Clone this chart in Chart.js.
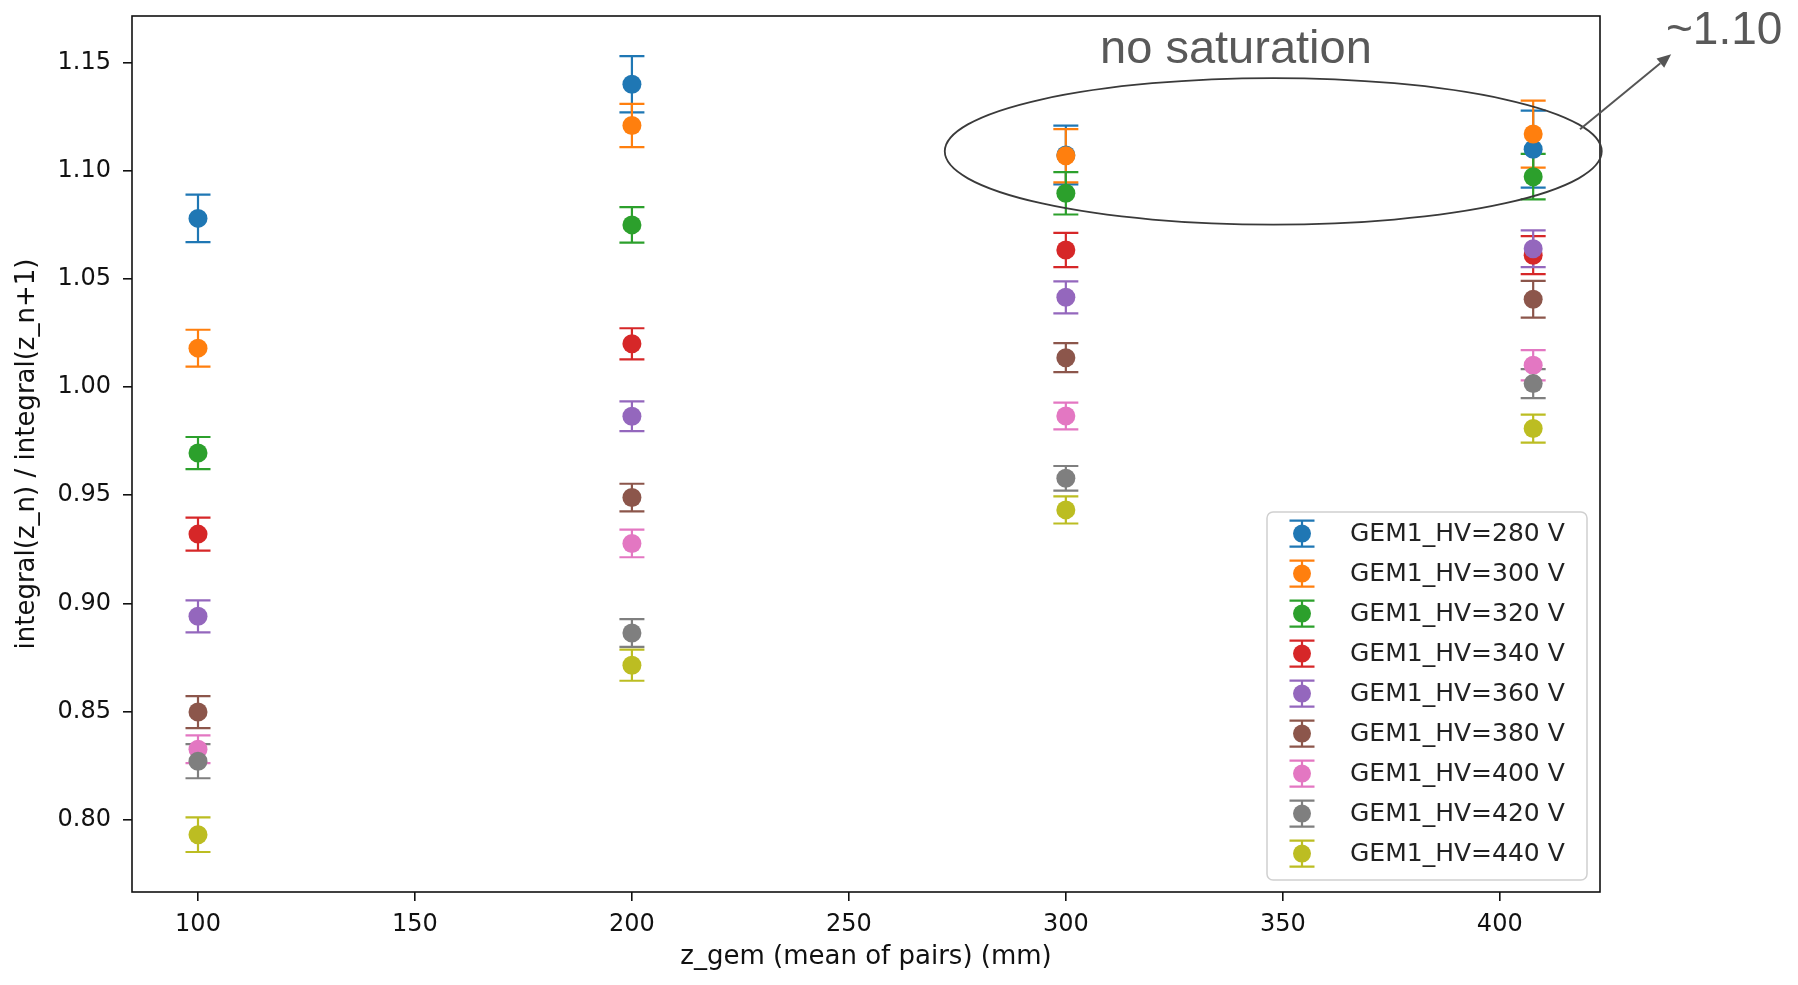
<!DOCTYPE html>
<html>
<head>
<meta charset="utf-8">
<title>integral ratio vs z_gem</title>
<script src="https://cdn.jsdelivr.net/npm/chart.js@4.4.1/dist/chart.umd.min.js"></script>
<style>
  html, body { margin: 0; padding: 0; background: #fff; }
  #wrap { width: 1798px; height: 985px; }
</style>
</head>
<body>
<div id="wrap"><canvas id="chart"></canvas></div>
<script>
/* z positions (mean of pairs), mm */
const zGem = [100, 200, 300, 407.7];

const hvLabels = [
    "GEM1_HV=280 V", "GEM1_HV=300 V", "GEM1_HV=320 V",
    "GEM1_HV=340 V", "GEM1_HV=360 V", "GEM1_HV=380 V",
    "GEM1_HV=400 V", "GEM1_HV=420 V", "GEM1_HV=440 V"
];

/* ratio integral(z_n) / integral(z_n+1), one array per HV setting */
const ratio280 = [1.078, 1.140, 1.1073, 1.110];
const ratio300 = [1.018, 1.121, 1.107, 1.117];
const ratio320 = [0.9695, 1.075, 1.0896, 1.0973];
const ratio340 = [0.932, 1.020, 1.0634, 1.061];
const ratio360 = [0.894, 0.9865, 1.0415, 1.064];
const ratio380 = [0.8497, 0.9489, 1.0136, 1.0406];
const ratio400 = [0.8325, 0.9277, 0.9866, 1.0101];
const ratio420 = [0.827, 0.8863, 0.9578, 1.0016];
const ratio440 = [0.793, 0.8714, 0.9432, 0.9808];

/* symmetric errors */
const err280 = [0.011, 0.013, 0.0136, 0.0178];
const err300 = [0.0085, 0.010, 0.0123, 0.0155];
const err320 = [0.0074, 0.0082, 0.0098, 0.0105];
const err340 = [0.0076, 0.0072, 0.0079, 0.0088];
const err360 = [0.0074, 0.0069, 0.0074, 0.0085];
const err380 = [0.0074, 0.0064, 0.0067, 0.0085];
const err400 = [0.0064, 0.0064, 0.0062, 0.007];
const err420 = [0.0079, 0.0064, 0.0057, 0.0067];
const err440 = [0.008, 0.0072, 0.0063, 0.0065];

const xTicks = [100, 150, 200, 250, 300, 350, 400];
const yTicks = [0.80, 0.85, 0.90, 0.95, 1.00, 1.05, 1.10, 1.15];

const ratios = [ratio280, ratio300, ratio320, ratio340, ratio360, ratio380, ratio400, ratio420, ratio440];
const errors = [err280, err300, err320, err340, err360, err380, err400, err420, err440];
const colors = ["#1f77b4", "#ff7f0e", "#2ca02c", "#d62728", "#9467bd",
                "#8c564b", "#e377c2", "#7f7f7f", "#bcbd22"];

/* hand-drawn slide notes, in data units */
const notes = {
    ellipse: { x: 347.8, y: 1.109, rx: 75.7, ry: 0.0339 },
    title: { text: "no saturation", x: 339.2, y: 1.1497 },
    value: { text: "~1.10", x: 438.3, y: 1.1585 },
    arrow: { x0: 418.5, y0: 1.1192, x1: 439.5, y1: 1.1539 }
};

const FONT = "'DejaVu Sans', sans-serif";

/* error bars go under every marker, like matplotlib's default */
const errorBars = {
    id: "errorBars",
    beforeDatasetsDraw(chart) {
        const { x, y } = chart.scales;
        const ctx = chart.ctx;
        ctx.save();
        ctx.lineWidth = 2.2;
        chart.data.datasets.forEach(ds => {
            ctx.strokeStyle = ds.backgroundColor;
            ds.data.forEach(p => {
                const px = x.getPixelForValue(p.x);
                const top = y.getPixelForValue(p.y + p.err);
                const bot = y.getPixelForValue(p.y - p.err);
                ctx.beginPath();
                ctx.moveTo(px, top); ctx.lineTo(px, bot);
                ctx.moveTo(px - 12.5, top); ctx.lineTo(px + 12.5, top);
                ctx.moveTo(px - 12.5, bot); ctx.lineTo(px + 12.5, bot);
                ctx.stroke();
            });
        });
        ctx.restore();
    }
};

/* the four spines, legend box and notes */
const overlay = {
    id: "overlay",
    afterDatasetsDraw(chart) {
        const ctx = chart.ctx;
        const a = chart.chartArea;
        ctx.save();
        ctx.strokeStyle = "#111";
        ctx.lineWidth = 1.6;
        ctx.strokeRect(a.left, a.top, a.right - a.left, a.bottom - a.top);

        /* legend */
        const w = 320, h = 368;
        const lx = a.right - 13 - w, ly = a.bottom - 12 - h;
        ctx.beginPath();
        ctx.roundRect(lx, ly, w, h, 6);
        ctx.fillStyle = "rgba(255,255,255,0.85)";
        ctx.fill();
        ctx.strokeStyle = "#d0d0d0";
        ctx.lineWidth = 1.5;
        ctx.stroke();

        ctx.font = "25px " + FONT;
        ctx.textBaseline = "middle";
        chart.data.datasets.forEach((ds, i) => {
            const cy = ly + 21.6 + i * 40;
            const cx = lx + 35;
            ctx.strokeStyle = ds.backgroundColor;
            ctx.lineWidth = 2.2;
            ctx.beginPath();
            ctx.moveTo(cx, cy - 13); ctx.lineTo(cx, cy + 13);
            ctx.moveTo(cx - 12.5, cy - 13); ctx.lineTo(cx + 12.5, cy - 13);
            ctx.moveTo(cx - 12.5, cy + 13); ctx.lineTo(cx + 12.5, cy + 13);
            ctx.stroke();
            ctx.beginPath();
            ctx.arc(cx, cy, 9, 0, Math.PI * 2);
            ctx.fillStyle = ds.backgroundColor;
            ctx.fill();
            ctx.fillStyle = "#222";
            ctx.fillText(ds.label, lx + 83, cy + 1);
        });
        ctx.restore();
    },
    afterDraw(chart) {
        const ctx = chart.ctx;
        const { x, y } = chart.scales;
        const e = notes.ellipse;
        ctx.save();

        const ex = x.getPixelForValue(e.x), ey = y.getPixelForValue(e.y);
        const erx = x.getPixelForValue(e.x + e.rx) - ex;
        const ery = ey - y.getPixelForValue(e.y + e.ry);
        ctx.beginPath();
        ctx.ellipse(ex, ey, erx, ery, 0, 0, Math.PI * 2);
        ctx.strokeStyle = "#3a3a3a";
        ctx.lineWidth = 1.8;
        ctx.stroke();

        ctx.fillStyle = "#595959";
        ctx.textBaseline = "alphabetic";
        ctx.font = "47px 'Liberation Sans', Arial, sans-serif";
        ctx.textAlign = "center";
        ctx.fillText(notes.title.text, x.getPixelForValue(notes.title.x), y.getPixelForValue(notes.title.y));
        ctx.font = "46px 'Liberation Sans', Arial, sans-serif";
        ctx.textAlign = "left";
        ctx.fillText(notes.value.text, x.getPixelForValue(notes.value.x), y.getPixelForValue(notes.value.y));

        /* arrow */
        const r = notes.arrow;
        const x0 = x.getPixelForValue(r.x0), y0 = y.getPixelForValue(r.y0);
        const x1 = x.getPixelForValue(r.x1), y1 = y.getPixelForValue(r.y1);
        const ang = Math.atan2(y1 - y0, x1 - x0);
        const hl = 14, hw = 6;
        const bx = x1 - hl * Math.cos(ang), by = y1 - hl * Math.sin(ang);
        ctx.strokeStyle = "#555";
        ctx.lineWidth = 2;
        ctx.beginPath();
        ctx.moveTo(x0, y0); ctx.lineTo(bx, by);
        ctx.stroke();
        ctx.fillStyle = "#555";
        ctx.beginPath();
        ctx.moveTo(x1, y1);
        ctx.lineTo(bx + hw * Math.sin(ang), by - hw * Math.cos(ang));
        ctx.lineTo(bx - hw * Math.sin(ang), by + hw * Math.cos(ang));
        ctx.closePath();
        ctx.fill();
        ctx.restore();
    }
};

const datasets = hvLabels.map((label, i) => ({
    label,
    data: zGem.map((z, k) => ({ x: z, y: ratios[i][k], err: errors[i][k] })),
    backgroundColor: colors[i],
    borderColor: colors[i],
    pointRadius: 9.5,
    pointHoverRadius: 9.5,
    pointBorderWidth: 0,
    showLine: false,
    order: hvLabels.length - i
}));

new Chart(document.getElementById("chart"), {
    type: "scatter",
    data: { datasets },
    options: {
        responsive: true,
        maintainAspectRatio: false,
        animation: false,
        layout: { padding: { left: 0, top: 16, right: 198, bottom: 0 } },
        plugins: {
            legend: { display: false },
            tooltip: { enabled: false }
        },
        scales: {
            x: {
                type: "linear",
                min: 84.79,
                max: 423.1,
                afterBuildTicks: (scale) => { scale.ticks = xTicks.map(v => ({ value: v })); },
                afterFit: (scale) => {
                    scale.height = 93;
                    scale.paddingLeft = 0;
                    scale.paddingRight = 0;
                },
                ticks: {
                    color: "#111",
                    padding: 9,
                    font: { family: FONT, size: 24 },
                    callback: (v) => String(v)
                },
                grid: { drawOnChartArea: false, drawTicks: true, tickLength: 9, color: "#111", lineWidth: 1.6 },
                border: { display: false },
                title: {
                    display: true,
                    text: "z_gem (mean of pairs) (mm)",
                    color: "#111",
                    font: { family: FONT, size: 26 },
                    padding: { top: 0, bottom: 12 }
                }
            },
            y: {
                type: "linear",
                min: 0.7665,
                max: 1.1716,
                afterBuildTicks: (scale) => { scale.ticks = yTicks.map(v => ({ value: v })); },
                afterFit: (scale) => {
                    scale.width = 132;
                    scale.paddingTop = 0;
                    scale.paddingBottom = 0;
                },
                ticks: {
                    color: "#111",
                    padding: 12,
                    font: { family: FONT, size: 24 },
                    callback: (v) => Number(v).toFixed(2)
                },
                grid: { drawOnChartArea: false, drawTicks: true, tickLength: 9, color: "#111", lineWidth: 1.6 },
                border: { display: false },
                title: {
                    display: true,
                    text: "integral(z_n) / integral(z_n+1)",
                    color: "#111",
                    font: { family: FONT, size: 26 },
                    padding: { top: 12, bottom: 0 }
                }
            }
        }
    },
    plugins: [errorBars, overlay]
});
</script>
</body>
</html>
